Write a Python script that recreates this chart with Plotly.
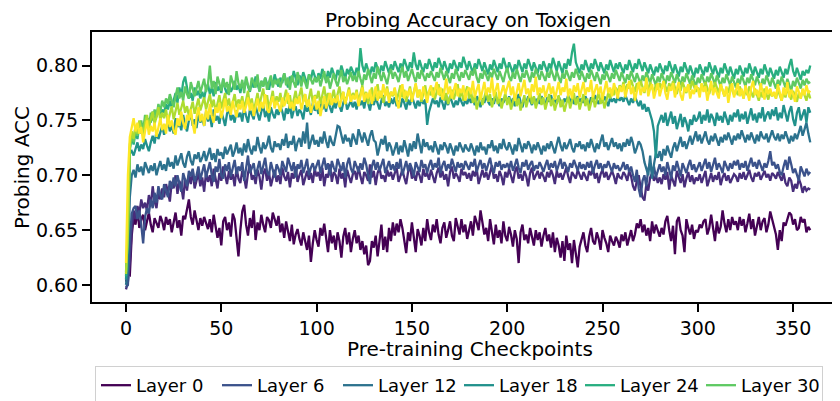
import plotly.graph_objects as go

checkpoints = list(range(360))

# values in thousandths (probing accuracy x 1000)
layer_a = [
 603,610,609,645,662,655,668,652,660,664,650,659,666,655,648,661,657,652,663,658,
 650,662,655,660,648,657,666,652,659,645,663,660,671,678,662,655,668,657,650,661,
 654,662,657,651,660,648,664,655,643,652,636,658,662,650,657,644,665,660,640,626,
 650,667,673,655,645,661,652,668,641,657,650,664,655,648,662,659,652,666,660,654,
 663,648,656,643,658,650,640,655,637,646,651,642,636,648,640,632,645,621,638,650,
 641,635,652,645,656,640,630,650,638,645,632,648,640,625,644,652,637,648,630,642,
 650,638,645,632,640,628,636,618,622,640,634,645,626,640,655,632,644,630,652,640,
 657,645,656,648,660,652,638,629,648,640,657,643,630,651,645,636,652,640,660,648,
 641,655,648,660,646,638,652,657,643,650,658,645,640,661,652,646,660,648,655,642,
 650,658,645,663,657,650,668,655,646,652,640,660,648,637,655,643,650,638,658,645,
 640,653,646,635,650,642,620,648,655,641,646,638,652,644,636,650,641,648,635,645,
 652,640,646,634,648,630,643,636,625,640,622,645,632,638,620,641,628,616,635,642,
 648,636,630,644,652,640,637,648,642,632,650,643,638,630,645,640,636,644,640,634,
 646,640,648,636,644,650,640,646,656,652,660,648,655,645,652,640,658,647,655,650,
 644,652,646,658,663,650,640,654,628,658,662,650,645,630,660,652,646,655,642,650,
 648,655,652,658,660,646,652,664,650,640,658,647,653,668,656,648,660,650,662,655,
 658,650,662,654,660,648,656,665,651,660,645,655,662,650,658,661,648,655,667,660,
 652,646,632,650,640,657,654,660,666,664,655,660,650,652,662,657,660,648,653,650]

layer_b = [
 596,603,620,650,668,660,672,665,678,670,675,668,682,672,690,676,670,685,678,688,
 680,692,685,676,694,688,700,683,695,690,678,697,686,700,692,705,688,696,702,690,
 698,685,703,694,700,690,706,697,688,702,695,708,698,692,704,696,701,690,707,697,
 693,704,698,688,702,710,696,700,692,705,699,687,701,706,695,703,690,698,705,694,
 700,692,707,699,695,703,689,702,697,708,694,700,705,691,699,704,696,702,693,706,
 699,703,695,707,690,701,698,710,694,703,700,692,706,697,702,689,705,699,693,701,
 704,696,708,699,692,703,700,695,710,698,704,691,702,707,697,700,694,705,699,703,
 696,702,707,694,700,705,698,692,703,709,697,701,695,704,700,693,706,699,702,696,
 705,700,693,702,707,698,704,696,701,690,703,708,697,702,699,694,706,700,703,697,
 702,695,704,699,706,692,700,705,698,703,696,702,709,697,701,694,704,699,691,703,
 698,706,700,693,703,708,697,701,695,704,699,690,702,707,696,700,704,697,703,699,
 694,703,698,705,700,692,704,698,702,696,701,707,699,693,703,700,697,705,701,696,
 703,699,695,704,700,706,697,702,693,701,705,698,703,696,700,704,699,692,702,698,
 697,703,700,695,704,699,690,686,695,700,689,680,677,692,686,698,702,695,700,693,
 698,692,701,696,703,687,700,695,690,704,698,693,701,689,697,703,694,700,692,698,
 695,701,693,699,704,690,697,702,694,700,696,703,691,698,702,695,700,693,697,701,
 699,694,702,697,703,696,700,705,698,694,702,699,703,696,700,704,698,701,695,702,
 700,697,703,699,695,702,693,690,698,695,685,692,688,697,692,684,690,686,688,687]

layer_c = [
 598,600,640,665,670,672,660,668,655,638,662,670,665,678,670,684,675,690,682,678,
 692,686,680,695,688,698,690,700,693,685,702,697,690,704,699,706,694,700,708,696,
 703,710,698,705,712,700,694,708,703,715,700,697,710,704,712,699,706,714,701,708,
 704,712,695,708,718,702,706,711,699,707,713,701,709,716,703,700,712,706,698,710,
 706,700,713,708,703,716,709,704,712,698,710,706,714,702,708,715,700,707,711,704,
 709,714,702,708,716,705,711,700,713,707,703,715,709,704,712,698,710,716,706,702,
 713,708,703,711,705,716,710,700,692,708,714,705,712,704,709,715,702,707,713,705,
 710,704,712,706,715,700,708,713,704,711,706,699,712,708,703,714,707,710,702,709,
 714,705,711,707,716,702,709,713,704,710,706,715,708,703,712,707,711,705,713,708,
 705,712,708,715,703,709,714,706,711,704,710,716,707,702,712,708,713,705,710,707,
 711,706,713,704,709,715,707,702,712,708,714,705,710,713,704,709,706,712,708,703,
 709,714,705,711,707,713,704,710,715,706,712,708,703,711,707,714,709,704,712,706,
 710,705,712,707,713,702,709,714,706,711,704,710,707,713,708,703,711,706,709,704,
 707,712,705,710,703,708,700,694,705,688,680,695,700,690,706,711,702,708,698,704,
 710,703,708,700,712,705,697,709,704,713,706,699,711,707,702,709,714,705,710,703,
 708,712,704,710,715,706,712,703,709,716,705,711,707,702,713,708,704,711,706,713,
 709,714,705,711,707,713,704,710,716,708,712,706,714,709,704,711,707,713,722,709,
 712,706,710,703,700,708,714,705,717,710,702,706,700,695,708,703,699,706,701,703]

layer_d = [
 600,615,680,700,705,698,710,703,708,700,712,706,702,709,704,711,700,707,713,705,
 710,704,716,708,712,706,718,709,714,720,711,707,717,722,713,709,719,715,721,712,
 716,722,713,719,725,714,720,712,724,718,721,715,726,719,723,728,717,722,730,720,
 725,718,729,721,733,724,719,727,722,735,726,720,730,724,728,736,725,721,731,726,
 729,723,733,727,738,725,731,728,736,722,730,734,726,740,729,748,724,731,737,728,
 732,726,735,729,740,731,725,736,730,727,738,745,744,735,729,737,731,734,726,738,
 733,728,742,735,730,739,733,727,736,741,732,730,718,725,733,728,736,722,730,726,
 718,724,730,719,727,721,732,725,717,729,722,731,724,738,727,720,733,726,730,723,
 727,721,731,725,719,728,723,730,726,720,729,724,718,727,722,730,725,721,728,724,
 722,729,724,718,727,721,730,723,726,719,728,725,732,722,727,720,729,724,733,726,
 723,730,725,719,728,722,734,726,721,729,724,731,727,720,728,723,730,725,719,727,
 722,729,724,731,726,720,728,735,727,722,730,724,728,733,725,721,729,726,731,724,
 728,722,730,725,733,727,721,729,724,731,737,726,730,723,728,734,726,730,724,729,
 722,730,726,733,727,735,729,720,725,731,728,722,712,705,700,718,697,710,720,716,
 722,713,724,718,727,721,716,725,730,722,728,735,726,731,724,729,736,728,733,740,
 731,737,729,734,740,732,728,736,731,738,733,727,735,730,737,732,739,734,728,736,
 732,738,733,741,735,730,737,732,739,734,729,737,731,740,735,733,738,730,736,741,
 735,732,738,731,737,733,740,734,729,736,731,738,733,739,745,736,742,748,738,730]

layer_e = [
 605,640,720,722,718,725,730,722,728,724,733,727,722,730,736,729,740,733,738,745,
 737,743,750,740,746,738,752,744,748,741,755,746,740,750,757,745,751,743,756,748,
 752,745,758,749,755,744,760,750,754,747,758,752,745,756,761,750,755,748,759,753,
 757,749,762,754,748,760,755,751,763,756,750,758,764,753,759,749,762,756,752,760,
 755,763,758,750,761,756,765,752,759,763,754,760,757,751,764,758,762,755,766,759,
 762,756,768,760,765,758,770,762,757,767,761,769,763,758,766,771,760,765,768,762,
 767,760,770,764,768,761,772,766,759,769,764,771,765,760,768,773,763,767,762,770,
 765,771,763,768,762,770,766,760,769,764,772,767,761,768,763,770,765,769,746,758,
 764,770,765,768,762,771,766,760,769,764,772,767,762,768,764,771,766,763,769,765,
 771,766,770,764,772,768,762,770,766,773,767,764,770,765,772,768,763,770,766,771,
 767,772,765,770,763,769,774,767,762,770,766,772,768,764,771,766,770,765,772,768,
 764,771,767,773,766,770,765,772,768,763,770,767,773,766,771,765,769,772,767,770,
 766,772,768,764,771,767,773,769,765,770,766,772,768,763,771,767,770,766,772,768,
 771,767,773,768,764,770,766,772,767,763,768,760,765,758,762,755,750,740,716,745,
 750,755,748,757,745,752,758,747,754,742,750,756,744,753,748,740,751,746,755,749,
 752,758,747,755,750,760,748,756,752,745,757,750,754,748,758,751,746,755,749,757,
 753,760,749,756,751,758,747,754,761,750,756,748,757,752,762,749,755,758,751,760,
 754,762,750,757,752,764,755,749,758,763,751,745,757,762,750,755,760,748,762,757]

layer_f = [
 608,650,725,735,728,740,733,746,738,742,750,745,752,748,758,750,755,762,753,760,
 757,765,760,768,762,770,775,766,780,772,785,790,778,770,775,768,780,773,777,770,
 776,770,779,783,774,780,772,785,777,781,775,788,779,774,783,776,780,786,778,782,
 775,784,779,788,781,776,785,780,790,783,777,786,781,789,784,778,787,782,792,785,
 781,789,784,793,786,780,790,785,795,788,782,791,786,794,789,783,792,787,796,790,
 785,793,788,797,791,786,795,789,798,792,787,796,791,800,793,788,797,792,799,794,
 790,798,793,816,800,794,802,796,791,799,794,803,797,792,800,795,804,798,793,801,
 796,804,799,794,802,797,806,800,795,803,798,812,801,796,805,799,794,802,797,806,
 800,795,803,798,807,801,796,804,799,793,802,797,805,800,795,803,798,808,801,796,
 804,799,793,802,797,806,800,795,803,798,792,801,796,805,799,794,802,797,807,800,
 795,803,798,793,801,796,805,799,794,802,797,806,800,795,803,798,793,801,796,804,
 799,794,802,797,807,800,795,804,798,793,802,797,806,800,812,820,803,798,793,801,
 796,805,799,794,802,797,806,800,795,803,798,793,801,796,805,799,794,802,797,803,
 798,793,801,796,805,799,794,802,797,806,800,795,803,798,793,801,796,791,799,794,
 802,797,792,800,795,804,798,793,801,796,790,799,794,803,797,792,800,795,789,798,
 793,801,796,791,799,794,803,797,792,800,795,789,798,793,802,796,791,799,794,788,
 797,792,800,795,790,798,793,802,796,791,799,794,789,797,792,801,795,790,798,793,
 788,796,791,799,794,789,797,792,800,806,795,790,798,793,787,795,791,796,793,800]

layer_g = [
 612,645,722,738,730,745,736,742,750,740,755,748,743,757,750,760,753,765,758,768,
 762,770,765,774,768,762,772,780,770,776,768,781,774,770,785,777,772,779,786,775,
 781,788,776,783,800,779,786,774,790,782,777,788,780,785,773,791,783,778,795,784,
 779,787,775,790,782,777,789,784,780,792,776,786,781,789,778,785,791,780,787,783,
 788,780,786,793,782,789,778,791,785,780,794,786,781,790,784,779,792,787,783,789,
 785,791,781,788,795,784,790,779,787,793,786,781,789,796,785,790,783,788,794,786,
 791,785,795,788,782,792,787,797,790,784,793,788,799,791,786,794,789,783,792,797,
 788,794,790,785,793,799,789,795,786,791,797,790,785,794,788,796,791,786,793,789,
 795,790,786,794,789,798,792,787,795,790,784,793,788,797,791,786,794,789,796,792,
 787,795,791,798,789,784,793,788,796,791,786,794,789,797,792,787,795,790,785,793,
 798,790,786,794,788,797,791,785,793,789,796,791,785,794,789,797,792,787,795,790,
 786,794,789,797,792,786,795,790,784,793,788,796,791,786,794,789,797,792,787,795,
 790,785,793,788,796,791,786,794,789,783,792,787,795,790,785,793,788,796,791,786,
 794,789,784,792,787,795,790,785,793,788,783,791,786,794,789,784,792,787,782,790,
 785,793,788,783,791,786,794,789,784,792,787,782,790,785,793,788,783,791,786,781,
 789,784,792,787,782,790,785,793,788,783,791,786,781,789,784,792,787,782,790,785,
 780,788,783,791,786,781,789,784,792,787,782,790,785,780,788,783,791,786,781,789,
 784,779,787,782,790,785,780,788,783,777,786,781,789,784,779,787,782,788,784,785]

layer_h = [
 610,648,728,740,733,745,738,750,742,736,748,755,744,751,758,747,753,762,750,757,
 752,760,748,756,763,751,758,766,755,761,768,757,763,754,760,767,756,762,770,759,
 764,771,760,767,774,762,769,758,766,773,761,768,775,763,770,759,767,774,762,769,
 765,772,760,769,777,763,770,758,768,775,764,771,779,766,773,760,770,777,763,772,
 767,775,762,771,778,765,773,761,769,777,766,772,780,767,774,762,771,779,766,773,
 770,777,765,774,781,768,775,764,772,778,767,774,781,769,776,765,773,780,768,775,
 771,778,767,774,782,770,776,765,773,780,768,775,783,770,777,766,774,781,769,776,
 772,779,768,775,782,771,778,767,774,781,769,776,783,771,778,767,775,782,770,777,
 773,780,769,776,783,772,779,768,775,765,772,778,769,776,783,771,777,768,774,781,
 770,777,766,773,760,768,775,764,771,778,767,774,762,769,776,765,772,761,768,775,
 764,771,760,767,774,763,770,759,766,773,762,769,776,765,772,761,768,775,764,771,
 760,767,774,763,770,759,766,773,762,769,758,765,772,761,768,775,764,771,760,767,
 774,763,770,759,766,773,762,769,776,765,772,761,768,775,770,778,773,780,775,782,
 778,785,776,783,779,787,781,776,784,779,786,781,775,783,778,785,780,775,783,778,
 784,779,786,781,776,784,779,786,781,774,782,777,785,780,775,783,778,786,781,776,
 780,775,783,778,785,780,774,782,777,785,780,775,783,778,772,780,775,783,778,773,
 778,773,781,776,770,778,773,781,776,771,779,774,768,776,771,779,774,769,777,772,
 775,770,778,773,768,776,771,779,774,769,777,772,767,775,770,778,773,768,776,770]

layer_i = [
 620,700,735,745,752,740,748,738,744,730,742,750,737,745,740,748,735,743,752,741,
 747,738,755,744,750,741,737,752,745,758,748,742,755,750,760,747,738,753,762,749,
 756,745,760,751,765,754,748,762,757,766,752,760,770,758,763,755,768,760,753,765,
 760,768,757,763,771,759,766,754,762,770,758,767,761,774,760,757,766,772,761,768,
 764,758,771,763,768,775,761,767,759,770,765,772,760,768,774,763,769,757,766,772,
 760,768,754,765,772,761,769,775,764,770,766,773,762,768,776,765,771,778,767,773,
 769,776,763,772,780,767,775,770,778,765,774,781,768,777,771,783,772,779,766,776,
 773,780,768,761,775,783,770,777,772,779,767,776,784,771,778,769,781,774,766,777,
 782,771,778,785,773,780,769,776,788,774,781,770,778,784,772,779,775,782,768,777,
 780,774,786,771,778,783,769,777,785,773,780,775,789,772,779,784,770,777,782,774,
 779,786,773,781,768,777,784,772,780,787,774,779,771,783,776,790,773,780,775,782,
 771,779,784,774,781,769,777,785,773,780,776,788,772,779,770,782,776,784,771,778,
 785,773,780,776,787,771,778,783,774,781,769,777,786,775,780,772,784,778,770,781,
 776,783,771,779,786,774,781,768,777,785,773,780,776,789,772,779,783,770,777,784,
 772,780,786,775,769,781,777,784,771,779,785,773,768,780,776,783,770,778,774,782,
 779,771,784,776,781,768,777,786,773,780,775,770,783,777,772,781,766,776,784,771,
 777,784,772,779,770,782,775,768,780,786,773,778,771,784,776,769,781,774,779,772,
 776,770,783,775,768,780,773,785,771,778,774,767,781,776,770,779,773,782,775,777]

series = [layer_a, layer_b, layer_c, layer_d, layer_e, layer_f, layer_g, layer_h, layer_i]
colors = ["#440154", "#472d7b", "#3b528b", "#2c728e", "#21918c",
          "#28ae80", "#5ec962", "#addc30", "#fde725"]
names = ["Layer 0", None, "Layer 6", "Layer 12", "Layer 18",
         "Layer 24", "Layer 30", None, None]

FONT = "DejaVu Sans"
fig = go.Figure()
for vals, col, nm in zip(series, colors, names):
    fig.add_trace(go.Scatter(
        x=checkpoints, y=[v / 1000 for v in vals], mode="lines",
        line=dict(color=col, width=2.3),
        name=nm if nm else "", showlegend=nm is not None,
    ))

# the page body has an 8px margin, so the figure is sized 8px smaller
fig.update_layout(
    width=832, height=393,
    margin=dict(l=84, r=0, t=24, b=99, autoexpand=False),
    paper_bgcolor="white", plot_bgcolor="white",
    font=dict(family=FONT, color="black", size=19),
    showlegend=True,
    legend=dict(orientation="h", x=0.004, y=-0.237, xanchor="left", yanchor="top",
                bordercolor="#d0d0d0", borderwidth=1, font=dict(size=18, family=FONT),
                itemwidth=30, traceorder="normal", entrywidth=76,
                entrywidthmode="pixels"),
    xaxis=dict(range=[-17.84, 374.6], tickvals=[0, 50, 100, 150, 200, 250, 300, 350],
               showline=True, linecolor="black", linewidth=2, mirror=True,
               ticks="outside", ticklen=8, tickwidth=2, tickcolor="black",
               showgrid=False, zeroline=False, tickfont=dict(size=19, family=FONT),
               automargin=False),
    yaxis=dict(range=[0.5845, 0.8306], tickvals=[0.60, 0.65, 0.70, 0.75, 0.80],
               tickformat=".2f",
               showline=True, linecolor="black", linewidth=2, mirror=False,
               ticks="outside", ticklen=8, tickwidth=2, tickcolor="black",
               showgrid=False, zeroline=False, tickfont=dict(size=19, family=FONT),
               automargin=False),
    annotations=[
        dict(text="Probing Accuracy on Toxigen", xref="paper", yref="paper",
             x=0.5027, y=1.0444, xanchor="center", yanchor="middle",
             showarrow=False, font=dict(size=20, family=FONT)),
        dict(text="Pre-training Checkpoints", xref="paper", yref="paper",
             x=0.5053, y=-0.174, xanchor="center", yanchor="middle",
             showarrow=False, font=dict(size=20, family=FONT)),
        dict(text="Probing ACC", xref="paper", yref="paper",
             x=-0.0936, y=0.5, xanchor="center", yanchor="middle", textangle=-90,
             showarrow=False, font=dict(size=20, family=FONT)),
    ],
)

fig.write_html("out.html")
